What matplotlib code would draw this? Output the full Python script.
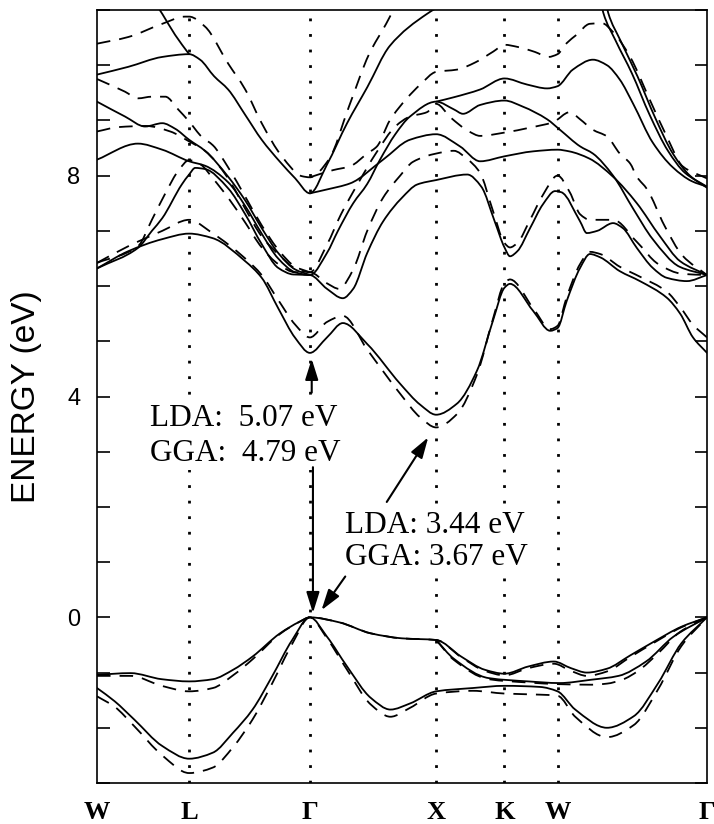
import matplotlib
matplotlib.use("Agg")
import matplotlib.pyplot as plt
import numpy as np
from matplotlib.path import Path
from matplotlib.patches import PathPatch
from matplotlib.ticker import MultipleLocator

# high-symmetry points along the path (fraction of path length)
K_TICKS = [0.0, 0.151, 0.349, 0.556, 0.668, 0.755, 1.0]
K_LABELS = ["W", "L", "Γ", "X", "K", "W", "Γ"]

# ---- valence bands (solid = GGA, dashed = LDA) ----
VB_TOP_K = [0, .055, .106, .151, .190, .223, .255, .300, .332, .349, .397, .449, .500, .556,
            .597, .636, .668, .707, .749, .777, .803, .836, .874, .913, .958, 1.0]
VB_TOP_E = [-1.04, -1.01, -1.12, -1.16, -1.12, -0.95, -0.71, -0.29, -0.08, 0.0, -0.09, -0.29, -0.38, -0.41,
            -0.71, -0.95, -1.02, -0.89, -0.80, -0.92, -1.00, -0.93, -0.69, -0.44, -0.17, 0.0]
DVB_TOP_E = [-1.06, -1.06, -1.24, -1.34, -1.28, -1.05, -0.76, -0.30, -0.08, 0.0, -0.09, -0.29, -0.38, -0.41,
             -0.72, -0.97, -1.05, -0.92, -0.84, -0.97, -1.06, -0.98, -0.72, -0.46, -0.18, 0.0]

VB_MID_K = [.556, .585, .642, .707, .758, .810, .855, .900, .945, 1.0]
VB_MID_E = [-0.41, -0.75, -1.10, -1.16, -1.19, -1.13, -1.06, -0.80, -0.35, 0.0]
DVB_MID_K = [.556, .585, .642, .707, .758, .810, .836, .861, .887, .920, .955, 1.0]
DVB_MID_E = [-0.41, -0.77, -1.12, -1.18, -1.21, -1.22, -1.20, -1.13, -0.97, -0.65, -0.27, 0.0]

VB_LOW_K = [0, .029, .061, .107, .151, .190, .223, .255, .287, .320, .349, .377, .410, .449,
            .481, .513, .556, .616, .668, .726, .755, .784, .836, .880, .920, .958, 1.0]
VB_LOW_E = [-1.28, -1.52, -1.85, -2.33, -2.56, -2.45, -2.09, -1.67, -1.07, -0.41, 0.0, -0.35, -0.89, -1.46,
            -1.67, -1.56, -1.34, -1.28, -1.24, -1.26, -1.34, -1.67, -2.00, -1.79, -1.19, -0.47, 0.0]
DVB_LOW_E = [-1.43, -1.62, -1.97, -2.50, -2.82, -2.72, -2.35, -1.85, -1.20, -0.48, 0.0, -0.38, -0.95, -1.58,
             -1.80, -1.64, -1.38, -1.33, -1.38, -1.40, -1.42, -1.80, -2.17, -1.95, -1.30, -0.52, 0.0]

# ---- conduction bands, GGA (solid) ----
CB1_K = [0, .051, .107, .151, .189, .243, .270, .297, .325, .349, .377, .403, .443, .497, .530, .556,
         .590, .623, .649, .668, .677, .715, .743, .755, .770, .792, .808, .825, .857, .890, .934, .956, .977, 1.0]
CB1_E = [6.32, 6.63, 6.85, 6.95, 6.87, 6.45, 6.15, 5.60, 5.06, 4.79, 5.07, 5.33, 4.95, 4.23, 3.85, 3.67,
         3.87, 4.47, 5.37, 5.97, 6.04, 5.55, 5.19, 5.24, 5.73, 6.33, 6.58, 6.52, 6.27, 6.09, 5.79, 5.50, 5.07, 4.79]

CB2_K = [0, .067, .090, .107, .139, .151, .161, .177, .215, .243, .270, .297, .322, .349, .377, .403, .420,
         .443, .469, .500, .525, .556, .607, .630, .652, .668, .677, .689, .710, .731, .751, .761, .792, .803,
         .820, .846, .862, .885, .911, .934, .967, 1.0]
CB2_E = [6.32, 6.69, 7.00, 7.23, 7.84, 8.02, 8.14, 8.12, 7.77, 7.30, 6.76, 6.33, 6.21, 6.20, 5.95, 5.78, 5.95,
         6.60, 7.17, 7.60, 7.84, 7.92, 8.02, 7.80, 7.17, 6.70, 6.54, 6.63, 7.05, 7.48, 7.72, 7.70, 7.17, 6.96,
         7.00, 7.14, 7.05, 6.69, 6.33, 6.15, 6.09, 6.20]

CB3_K = [0, .067, .107, .151, .177, .215, .243, .270, .297, .325, .349, .377, .395, .420, .443, .464, .489,
         .513, .556, .585, .600, .628, .668, .698, .738, .759, .792, .813, .846, .879, .911, .955, 1.0]
CB3_E = [8.29, 8.58, 8.47, 8.26, 8.18, 7.88, 7.45, 6.95, 6.50, 6.25, 6.20, 6.60, 7.00, 7.50, 7.85, 8.29, 8.75,
         9.07, 9.34, 9.20, 9.12, 9.28, 9.36, 9.25, 9.02, 8.83, 8.53, 8.40, 8.00, 7.40, 6.85, 6.35, 6.20]

CB4_LEFT_K = [0, .046, .079, .107, .128, .151, .177, .215, .243, .270, .297, .325, .349]
CB4_LEFT_E = [9.34, 9.07, 8.89, 8.95, 8.85, 8.65, 8.45, 7.98, 7.55, 7.05, 6.60, 6.30, 6.20]
CB4_RIGHT_K = [.556, .585, .628, .668, .705, .738, .755, .780, .813, .836, .857, .879, .911, .944, .975, 1.0]
CB4_RIGHT_E = [9.34, 9.42, 9.56, 9.76, 9.65, 9.58, 9.62, 9.92, 10.10, 10.00, 9.74, 9.30, 8.60, 8.15, 7.90, 7.80]

CB5_K = [.349, .377, .415, .469, .513, .556, .595, .628, .668, .715, .755, .774, .807, .846, .885, .923, .956, 1.0]
CB5_E = [7.68, 7.75, 7.86, 8.29, 8.65, 8.75, 8.53, 8.26, 8.35, 8.44, 8.47, 8.44, 8.31, 7.98, 7.50, 6.90, 6.45, 6.20]

CB6_K = [0, .051, .107, .151, .169, .192, .215, .243, .270, .300, .325, .349, .377, .410, .443, .480, .541, .600]
CB6_E = [9.83, 9.97, 10.15, 10.20, 10.10, 9.80, 9.56, 9.10, 8.65, 8.25, 7.95, 7.68, 8.20, 8.95, 9.60, 10.35, 10.93, 11.30]

CB7_K = [.085, .107, .128, .151]
CB7_E = [11.30, 10.93, 10.55, 10.20]

CB8_K = [.822, .830, .850, .877, .906, .936, .964, 1.0]
CB8_E = [11.40, 10.95, 10.45, 9.85, 9.10, 8.45, 8.05, 7.80]
CB9_K = [.830, .838, .858, .886, .915, .944, .972, 1.0]
CB9_E = [11.40, 10.95, 10.45, 9.80, 9.05, 8.40, 8.00, 7.78]

# ---- conduction bands, LDA (dashed) ----
DCB1_E = [6.42, 6.72, 7.00, 7.20, 6.96, 6.50, 6.20, 5.75, 5.30, 5.07, 5.35, 5.46, 4.85, 4.05, 3.62, 3.44,
          3.68, 4.40, 5.40, 6.05, 6.12, 5.60, 5.22, 5.28, 5.80, 6.40, 6.62, 6.58, 6.35, 6.17, 5.90, 5.62, 5.30, 5.07]

DCB2_K = [0, .067, .090, .113, .134, .151, .170, .190, .215, .243, .270, .297, .325, .349, .377, .397, .420,
          .443, .469, .497, .518, .556, .585, .607, .628, .648, .668, .677, .689, .710, .731, .755, .775, .792,
          .808, .846, .885, .920, .960, 1.0]
DCB2_E = [6.42, 6.72, 7.20, 7.70, 8.10, 8.28, 8.20, 7.95, 7.60, 7.15, 6.70, 6.40, 6.25, 6.25, 6.05, 5.95, 6.30,
          7.00, 7.60, 8.00, 8.25, 8.40, 8.45, 8.30, 8.05, 7.40, 6.78, 6.70, 6.78, 7.20, 7.65, 8.00, 7.70, 7.30,
          7.20, 7.20, 6.80, 6.40, 6.22, 6.20]

DCB3_K = [0, .036, .080, .120, .151, .177, .215, .243, .270, .300, .325, .349, .377, .400, .430, .457, .490,
          .513, .541, .556, .580, .610, .628, .668, .710, .748, .775, .792, .813, .836, .857, .874, .885, .902,
          .930, .960, 1.0]
DCB3_E = [8.80, 8.88, 8.90, 8.80, 8.62, 8.45, 7.95, 7.40, 6.90, 6.55, 6.32, 6.25, 6.75, 7.30, 7.90, 8.40, 8.90,
          9.07, 9.15, 9.30, 9.05, 8.80, 8.72, 8.78, 8.87, 8.97, 9.15, 9.02, 8.83, 8.71, 8.40, 8.22, 7.98, 7.75,
          7.10, 6.55, 6.20]

DCB4_K = [0, .046, .067, .090, .112, .133, .151, .172, .190, .215, .243, .270, .300, .325, .349]
DCB4_E = [9.75, 9.52, 9.40, 9.43, 9.43, 9.20, 8.98, 8.70, 8.55, 8.15, 7.62, 7.10, 6.62, 6.35, 6.25]

DCB5_K = [.349, .387, .415, .443, .459, .480, .508, .530, .556, .590, .620, .650, .668, .690, .718, .740, .755,
          .770, .786, .808, .828, .846, .874, .906, .934, .960, 1.0]
DCB5_E = [7.97, 8.10, 8.17, 8.40, 8.53, 9.00, 9.40, 9.65, 9.88, 9.92, 10.05, 10.25, 10.37, 10.33, 10.24, 10.15,
          10.20, 10.40, 10.55, 10.75, 10.76, 10.60, 10.15, 9.38, 8.71, 8.17, 7.95]

DCB6_K = [0, .051, .107, .144, .151, .177, .215, .243, .270, .303, .336, .349, .380, .413, .446, .474, .500]
DCB6_E = [10.39, 10.51, 10.75, 10.88, 10.88, 10.70, 10.03, 9.56, 8.95, 8.35, 7.99, 7.97, 8.29, 9.25, 10.20, 10.75, 11.30]

GGA_BANDS = [
    (VB_TOP_K, VB_TOP_E), (VB_MID_K, VB_MID_E), (VB_LOW_K, VB_LOW_E),
    (CB1_K, CB1_E), (CB2_K, CB2_E), (CB3_K, CB3_E), (CB4_LEFT_K, CB4_LEFT_E),
    (CB4_RIGHT_K, CB4_RIGHT_E), (CB5_K, CB5_E), (CB6_K, CB6_E), (CB7_K, CB7_E),
    (CB8_K, CB8_E), (CB9_K, CB9_E),
]
LDA_BANDS = [
    (VB_TOP_K, DVB_TOP_E), (DVB_MID_K, DVB_MID_E), (VB_LOW_K, DVB_LOW_E),
    (CB1_K, DCB1_E), (DCB2_K, DCB2_E), (DCB3_K, DCB3_E), (DCB4_K, DCB4_E),
    (DCB5_K, DCB5_E), (DCB6_K, DCB6_E),
]


def band_path(ks, es):
    """Smooth curve through the band points (monotone cubic Hermite segments)."""
    x = np.asarray(ks, dtype=float)
    y = np.asarray(es, dtype=float)
    h = np.diff(x)
    d = np.diff(y) / h
    m = np.empty_like(y)
    m[0], m[-1] = d[0], d[-1]
    for i in range(1, len(y) - 1):
        if d[i - 1] * d[i] <= 0:
            m[i] = 0.0
        else:
            w1 = 2 * h[i] + h[i - 1]
            w2 = h[i] + 2 * h[i - 1]
            m[i] = (w1 + w2) / (w1 / d[i - 1] + w2 / d[i])
    verts = [(x[0], y[0])]
    codes = [Path.MOVETO]
    for i in range(len(x) - 1):
        verts += [(x[i] + h[i] / 3, y[i] + m[i] * h[i] / 3),
                  (x[i + 1] - h[i] / 3, y[i + 1] - m[i + 1] * h[i] / 3),
                  (x[i + 1], y[i + 1])]
        codes += [Path.CURVE4] * 3
    return Path(verts, codes)


fig = plt.figure(figsize=(7.14, 8.24), dpi=100)
ax = fig.add_axes([97 / 714, 1 - 783 / 824, 610 / 714, 773 / 824])

for k in K_TICKS[1:-1]:
    ax.axvline(k, color="black", lw=2.0, linestyle=(0, (1, 4.6)), zorder=1)

for ks, es in GGA_BANDS:
    ax.add_patch(PathPatch(band_path(ks, es), fill=False, edgecolor="black",
                           lw=1.3, capstyle="round", zorder=3))
for ks, es in LDA_BANDS:
    ax.add_patch(PathPatch(band_path(ks, es), fill=False, edgecolor="black",
                           lw=1.3, linestyle=(0, (7.5, 5)), zorder=2))

ax.set_xlim(0, 1)
ax.set_ylim(-3, 11)

# axes styling
for sp in ax.spines.values():
    sp.set_linewidth(1.2)
ax.set_xticks(K_TICKS)
ax.set_xticklabels(K_LABELS, fontfamily="Liberation Serif", fontweight="bold", fontsize=19)
ax.tick_params(axis="x", length=0, pad=13)
ax.set_yticks([0, 4, 8])
ax.yaxis.set_minor_locator(MultipleLocator(1))
ax.tick_params(axis="y", which="both", direction="in", left=True, right=True,
               length=9, width=1.2, pad=12)
for lab in ax.get_yticklabels():
    lab.set_fontfamily("Liberation Sans")
    lab.set_fontsize(17)
ax.set_ylabel("ENERGY (eV)", fontfamily="Liberation Sans", fontsize=24)
ax.yaxis.set_label_coords(-0.09, 0.5)

# band-gap annotations; white box hides the dotted guide lines behind the text
serif = dict(fontfamily="Liberation Serif", fontsize=22.5, va="baseline", ha="left", zorder=4,
             bbox=dict(facecolor="white", edgecolor="none", pad=1.5))
ax.text(0.087, 3.47, "LDA:  5.07 eV", **serif)
ax.text(0.087, 2.84, "GGA:  4.79 eV", **serif)
ax.text(0.407, 1.53, "LDA: 3.44 eV", **serif)
ax.text(0.407, 0.95, "GGA: 3.67 eV", **serif)

arrow = dict(arrowstyle="-|>,head_length=0.7,head_width=0.22", color="black",
             lw=1.5, mutation_scale=18, shrinkA=0, shrinkB=0)
ax.annotate("", xy=(0.352, 4.68), xytext=(0.352, 4.07), arrowprops=arrow, zorder=5)
ax.annotate("", xy=(0.354, 0.08), xytext=(0.354, 2.72), arrowprops=arrow, zorder=5)
ax.annotate("", xy=(0.368, 0.13), xytext=(0.407, 0.74), arrowprops=arrow, zorder=5)
ax.annotate("", xy=(0.543, 3.26), xytext=(0.475, 2.09), arrowprops=arrow, zorder=5)

fig.savefig("out.png", dpi=100)
